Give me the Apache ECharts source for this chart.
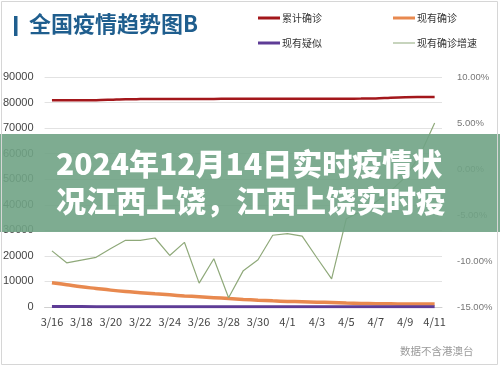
<!DOCTYPE html>
<html><head><meta charset="utf-8">
<script src="https://cdn.jsdelivr.net/npm/echarts@6/dist/echarts.min.js"></script>
<style>html,body{margin:0;padding:0;background:#fff}#c{width:500px;height:367px}</style>
</head><body><div id="c"></div>
<script>
const categories = ['3/16','3/17','3/18','3/19','3/20','3/21','3/22','3/23','3/24','3/25','3/26','3/27','3/28','3/29','3/30','3/31','4/1','4/2','4/3','4/4','4/5','4/6','4/7','4/8','4/9','4/10','4/11'];
const cumulative = [80860,80880,80900,80930,81100,81300,81350,81380,81400,81420,81430,81440,81450,81460,81470,81480,81490,81500,81510,81520,81530,81550,81600,81900,82100,82150,82160];
const existing = [9500,8700,7900,7250,6600,6050,5600,5150,4750,4350,4000,3650,3300,2950,2650,2400,2200,2050,1900,1750,1550,1400,1300,1250,1200,1180,1160];
const suspected = [170,160,150,145,140,135,130,128,125,122,120,118,115,112,110,108,105,102,100,98,96,94,92,90,88,86,85];
const growthPct = [-8.9,-10.2,-9.9,-9.6,-8.65,-7.75,-7.75,-7.5,-9.4,-7.97,-12.4,-9.75,-14.0,-11.05,-9.86,-7.2,-7.03,-7.3,-9.65,-11.95,-5.4,-4.6,-3.6,-2.4,-0.9,1.5,5.0];
const leftTicks = {min:0, max:90000, interval:10000};
const rightTicks = {min:-15, max:10, interval:5};
const seriesNames = ['累计确诊','现有确诊','现有疑似','现有确诊增速'];
const titleText = '全国疫情趋势图B';
const bannerLines = ['2024年12月14日实时疫情状','况江西上饶，江西上饶实时疫'];
const footnote = '数据不含港澳台';

const chart = echarts.init(document.getElementById('c'));
const F = "'Noto Sans CJK SC','Noto Sans',sans-serif";
function lg(name, left, top, h){
  return {data:[name], left:left, top:top, itemWidth:22, itemHeight:h, icon:'rect', itemGap:0,
    textStyle:{fontSize:10, color:'#333', fontFamily:F, padding:[0,0,0,-3]}, padding:0};
}
chart.setOption({
  backgroundColor:'#fff',
  animation:false,
  textStyle:{fontFamily:F},
  legend:[lg(seriesNames[0],258,13,3), lg(seriesNames[1],393,13,3), lg(seriesNames[2],258,38,3), lg(seriesNames[3],393,38,1)],
  grid:{left:43, right:58, top:77, bottom:60},
  xAxis:{type:'category', data:categories, boundaryGap:true,
    axisLine:{show:true, lineStyle:{color:'#d0d0d0'}}, axisTick:{show:false},
    axisLabel:{interval:1, fontSize:11, color:'#444', margin:9, fontFamily:F}},
  yAxis:[
    {type:'value', min:leftTicks.min, max:leftTicks.max, interval:leftTicks.interval,
     axisLine:{show:false}, axisTick:{show:false},
     splitLine:{lineStyle:{color:'#e2e2e2', width:1}},
     axisLabel:{fontSize:11, color:'#444', margin:11, fontFamily:"'Liberation Sans',sans-serif",
       formatter:v=>String(v)}},
    {type:'value', position:'right', min:rightTicks.min, max:rightTicks.max, interval:rightTicks.interval,
     axisLine:{show:false}, axisTick:{show:false}, splitLine:{show:false},
     axisLabel:{fontSize:9.5, color:'#777', margin:15, fontFamily:"'Liberation Sans',sans-serif",
       formatter:v=>v.toFixed(2)+'%'}}
  ],
  series:[
    {name:seriesNames[0], type:'line', data:cumulative, symbol:'none', smooth:0.3, z:3,
     itemStyle:{color:'#A3171B'}, lineStyle:{color:'#A3171B', width:2.5}},
    {name:seriesNames[1], type:'line', data:existing, symbol:'none', smooth:0.4, z:3,
     itemStyle:{color:'#E8894F'}, lineStyle:{color:'#E8894F', width:3.5}},
    {name:seriesNames[2], type:'line', data:suspected, symbol:'none', z:4,
     itemStyle:{color:'#5E3C96'}, lineStyle:{color:'#5E3C96', width:3}},
    {name:seriesNames[3], type:'line', yAxisIndex:1, data:growthPct, symbol:'none', z:5,
     itemStyle:{color:'#8FA97A'}, lineStyle:{color:'#8FA97A', width:1.2}}
  ],
  graphic:[
    {type:'rect', z:200, shape:{x:1.5,y:1.5,width:496,height:363}, style:{fill:'none', stroke:'#d6d6d6', lineWidth:1}},
    {type:'rect', z:100, shape:{x:14,y:16,width:3.5,height:20}, style:{fill:'#1F5E8E'}},
    {type:'text', z:100, left:29, top:13, style:{text:titleText, fill:'#1F5E8E', font:"bold 22px 'Noto Sans CJK SC'"}},
    {type:'text', z:100, left:400, top:346, style:{text:footnote, fill:'#9a9a9a', font:"10.5px 'Noto Sans CJK SC'"}},
    {type:'rect', z:150, shape:{x:0,y:134,width:500,height:98}, style:{fill:'rgba(112,163,133,0.9)'}},
    {type:'text', z:160, left:56, top:149, style:{text:bannerLines[0], fill:'#fff', font:"900 30px 'Noto Sans CJK SC'"}},
    {type:'text', z:160, left:56, top:186, style:{text:bannerLines[1], fill:'#fff', font:"900 30px 'Noto Sans CJK SC'"}}
  ]
});
</script></body></html>
